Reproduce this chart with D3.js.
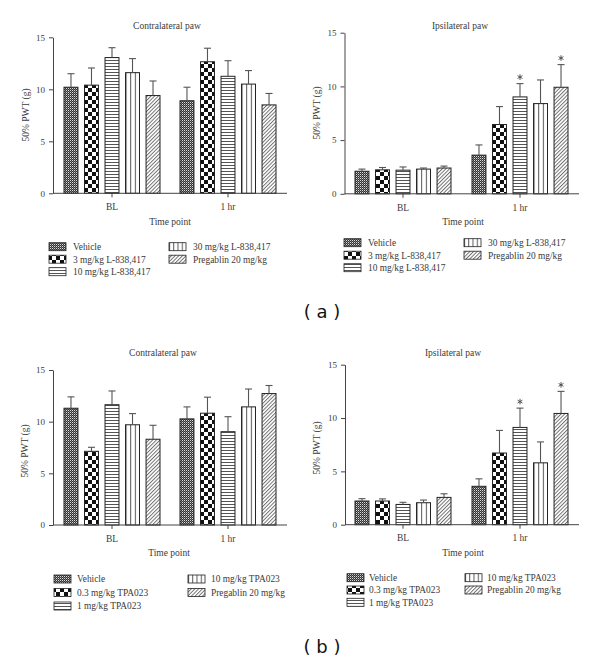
<!DOCTYPE html>
<html>
<head>
<meta charset="utf-8">
<script src="https://cdn.jsdelivr.net/npm/d3@7/dist/d3.min.js"></script>
<style>
  html, body { margin: 0; padding: 0; background: #fff; }
  svg { display: block; }
  text { font-family: "Liberation Serif", "DejaVu Serif", serif; fill: #3a3a3a; }
</style>
</head>
<body>
<svg id="chart" width="600" height="662"></svg>
<script>
// ---------- data ----------
const timePoints = ["BL", "1 hr"];
const groupsA = ["Vehicle", "3 mg/kg L-838,417", "10 mg/kg L-838,417", "30 mg/kg L-838,417", "Pregablin 20 mg/kg"];
const groupsB = ["Vehicle", "0.3 mg/kg TPA023", "1 mg/kg TPA023", "10 mg/kg TPA023", "Pregablin 20 mg/kg"];
const yTicks = [0, 5, 10, 15];

// (a) contralateral
const contraA_BL = [10.2, 10.4, 13.05, 11.6, 9.4];
const contraA_BL_sem = [1.3, 1.65, 0.95, 1.35, 1.4];
const contraA_1h = [8.9, 12.65, 11.25, 10.5, 8.5];
const contraA_1h_sem = [1.3, 1.3, 1.5, 1.3, 1.1];
// (a) ipsilateral
const ipsiA_BL = [2.1, 2.23, 2.2, 2.3, 2.4];
const ipsiA_BL_sem = [0.2, 0.22, 0.3, 0.1, 0.18];
const ipsiA_1h = [3.6, 6.45, 9.02, 8.4, 9.92];
const ipsiA_1h_sem = [0.95, 1.67, 1.24, 2.2, 2.11];
const ipsiA_1h_star = [false, false, true, false, true];
// (b) contralateral
const contraB_BL = [11.3, 7.13, 11.64, 9.7, 8.3];
const contraB_BL_sem = [1.1, 0.39, 1.33, 1.08, 1.35];
const contraB_1h = [10.27, 10.82, 9.03, 11.43, 12.72];
const contraB_1h_sem = [1.16, 1.55, 1.45, 1.73, 0.78];
// (b) ipsilateral
const ipsiB_BL = [2.22, 2.22, 1.9, 2.06, 2.56];
const ipsiB_BL_sem = [0.22, 0.2, 0.2, 0.25, 0.34];
const ipsiB_1h = [3.6, 6.72, 9.12, 5.8, 10.43];
const ipsiB_1h_sem = [0.7, 2.12, 1.81, 1.96, 2.07];
const ipsiB_1h_star = [false, false, true, false, true];
const noStars = [false, false, false, false, false];

// ---------- patterns ----------
const svg = d3.select("#chart");
const defs = svg.append("defs");

// Vehicle: fine dense check
let p = defs.append("pattern").attr("id", "pVeh").attr("patternUnits", "userSpaceOnUse").attr("width", 2).attr("height", 2);
p.append("rect").attr("width", 2).attr("height", 2).attr("fill", "#333");
p.append("rect").attr("x", 0).attr("y", 0).attr("width", 1).attr("height", 1).attr("fill", "#ddd");
p.append("rect").attr("x", 1).attr("y", 1).attr("width", 1).attr("height", 1).attr("fill", "#777");

// Checkerboard
p = defs.append("pattern").attr("id", "pChk").attr("patternUnits", "userSpaceOnUse").attr("width", 8).attr("height", 8);
p.append("rect").attr("width", 8).attr("height", 8).attr("fill", "#fff");
p.append("rect").attr("width", 4).attr("height", 4).attr("fill", "#111");
p.append("rect").attr("x", 4).attr("y", 4).attr("width", 4).attr("height", 4).attr("fill", "#111");

// Horizontal lines
p = defs.append("pattern").attr("id", "pHor").attr("patternUnits", "userSpaceOnUse").attr("width", 4).attr("height", 3);
p.append("rect").attr("width", 4).attr("height", 3).attr("fill", "#fff");
p.append("line").attr("x1", 0).attr("x2", 4).attr("y1", 0.5).attr("y2", 0.5).attr("stroke", "#555").attr("stroke-width", 1);

// Vertical lines (3 columns per bar)
p = defs.append("pattern").attr("id", "pVer").attr("patternUnits", "objectBoundingBox").attr("width", 1/3).attr("height", 1);
p.append("rect").attr("width", 100).attr("height", 1000).attr("fill", "#fff");
p.append("line").attr("x1", 0.5).attr("x2", 0.5).attr("y1", 0).attr("y2", 1000).attr("stroke", "#555").attr("stroke-width", 1);

// Vertical lines (legend, 4 columns)
p = defs.append("pattern").attr("id", "pVerL").attr("patternUnits", "objectBoundingBox").attr("width", 0.25).attr("height", 1);
p.append("rect").attr("width", 100).attr("height", 1000).attr("fill", "#fff");
p.append("line").attr("x1", 0.5).attr("x2", 0.5).attr("y1", 0).attr("y2", 1000).attr("stroke", "#555").attr("stroke-width", 1);

// Diagonal hatch
p = defs.append("pattern").attr("id", "pDiag").attr("patternUnits", "userSpaceOnUse").attr("width", 2.6).attr("height", 10)
  .attr("patternTransform", "rotate(45)");
p.append("rect").attr("width", 2.6).attr("height", 10).attr("fill", "#fff");
p.append("line").attr("x1", 0.5).attr("x2", 0.5).attr("y1", 0).attr("y2", 10).attr("stroke", "#666").attr("stroke-width", 0.9);

const fills = ["url(#pVeh)", "url(#pChk)", "url(#pHor)", "url(#pVer)", "url(#pDiag)"];
const legendFills = ["url(#pVeh)", "url(#pChk)", "url(#pHor)", "url(#pVerL)", "url(#pDiag)"];
const starSymbol = d3.symbol().type(d3.symbolAsterisk).size(22);

// ---------- panel renderer ----------
function drawPanel(o) {
  const g = svg.append("g");
  const y = d3.scaleLinear().domain([0, 15]).range([o.y0, o.y15]);
  const x0 = d3.scaleBand().domain(timePoints).range([o.xa, o.xb]);
  const bw = x0.bandwidth();
  const x1 = d3.scaleBand().domain(d3.range(5)).range([bw / 2 - 48, bw / 2 + 48]).paddingInner(0.32);

  // title
  g.append("text").attr("x", o.titleX).attr("y", o.titleY).attr("text-anchor", "middle")
    .attr("font-size", 9.5).text(o.title);

  // y axis
  const ya = g.append("g").attr("transform", `translate(${o.axX},0)`)
    .call(d3.axisLeft(y).tickValues(yTicks).tickSize(4).tickSizeOuter(0).tickPadding(4));
  ya.select(".domain").attr("stroke", "#444");
  ya.selectAll(".tick line").attr("stroke", "#444");
  ya.selectAll(".tick text").attr("font-family", "Liberation Serif, DejaVu Serif, serif").attr("font-size", 9).attr("fill", "#3a3a3a");

  // y label
  g.append("text").attr("transform", `translate(${o.ylabX},${o.ylabY}) rotate(-90)`)
    .attr("text-anchor", "middle").attr("font-size", 9.5).text("50% PWT (g)");

  // bars
  const series = o.series;
  timePoints.forEach((tp, ti) => {
    const gx = x0(tp);
    const means = series.mean[ti], sems = series.sem[ti], stars = series.star[ti];
    means.forEach((m, i) => {
      const bx = gx + x1(i), w = x1.bandwidth();
      g.append("rect").attr("x", bx).attr("y", y(m)).attr("width", w).attr("height", y(0) - y(m))
        .attr("fill", fills[i]).attr("stroke", "#222").attr("stroke-width", 1);
      const cx = bx + w / 2, top = y(m + sems[i]);
      g.append("line").attr("x1", cx).attr("x2", cx).attr("y1", y(m)).attr("y2", top)
        .attr("stroke", "#555").attr("stroke-width", 1.1);
      g.append("line").attr("x1", cx - 3.5).attr("x2", cx + 3.5).attr("y1", top).attr("y2", top)
        .attr("stroke", "#555").attr("stroke-width", 1.1);
      if (stars[i]) {
        g.append("path").attr("d", starSymbol).attr("transform", `translate(${cx},${top - 6.5})`)
          .attr("fill", "none").attr("stroke", "#444").attr("stroke-width", 0.9);
      }
    });
  });

  // x axis line + ticks
  g.append("line").attr("x1", o.axX).attr("x2", o.xEnd).attr("y1", o.y0).attr("y2", o.y0)
    .attr("stroke", "#444").attr("stroke-width", 1);
  const xa = g.append("g").attr("transform", `translate(0,${o.y0})`)
    .call(d3.axisBottom(x0).tickSize(4).tickSizeOuter(0).tickPadding(6));
  xa.select(".domain").remove();
  xa.selectAll(".tick line").attr("stroke", "#444");
  xa.selectAll(".tick text").attr("font-family", "Liberation Serif, DejaVu Serif, serif").attr("font-size", 9.5).attr("fill", "#3a3a3a");

  // x label
  g.append("text").attr("x", o.xlabX).attr("y", o.xlabY).attr("text-anchor", "middle")
    .attr("font-size", 9.5).text("Time point");

  // legend
  const L = o.legend;
  o.groups.forEach((name, i) => {
    const col = i < 3 ? 0 : 1, row = i < 3 ? i : i - 3;
    const sx = col === 0 ? L.sx1 : L.sx2;
    const cy = L.y + row * L.dy;
    g.append("rect").attr("x", sx).attr("y", cy - 4).attr("width", 17).attr("height", 8)
      .attr("fill", legendFills[i]).attr("stroke", "#222").attr("stroke-width", 0.8);
    g.append("text").attr("x", sx + L.off).attr("y", cy + 3.3).attr("font-size", 9.4).text(name);
  });
}

drawPanel({
  title: "Contralateral paw", titleX: 167, titleY: 28.5,
  axX: 53, y0: 193.3, y15: 37.3, xa: 54, xb: 286, xEnd: 287,
  ylabX: 29, ylabY: 115, xlabX: 170, xlabY: 224.5,
  groups: groupsA,
  series: { mean: [contraA_BL, contraA_1h], sem: [contraA_BL_sem, contraA_1h_sem], star: [noStars, noStars] },
  legend: { sx1: 49, sx2: 169, y: 246.7, dy: 12.5, off: 24 }
});
drawPanel({
  title: "Ipsilateral paw", titleX: 460, titleY: 29.3,
  axX: 344.5, y0: 193.8, y15: 32.7, xa: 344.5, xb: 578.5, xEnd: 579,
  ylabX: 320, ylabY: 113, xlabX: 463, xlabY: 224.5,
  groups: groupsA,
  series: { mean: [ipsiA_BL, ipsiA_1h], sem: [ipsiA_BL_sem, ipsiA_1h_sem], star: [noStars, ipsiA_1h_star] },
  legend: { sx1: 344, sx2: 464, y: 242.7, dy: 12.5, off: 24 }
});
drawPanel({
  title: "Contralateral paw", titleX: 163, titleY: 356.3,
  axX: 53, y0: 525, y15: 370, xa: 54, xb: 286, xEnd: 287,
  ylabX: 28, ylabY: 451, xlabX: 169, xlabY: 556,
  groups: groupsB,
  series: { mean: [contraB_BL, contraB_1h], sem: [contraB_BL_sem, contraB_1h_sem], star: [noStars, noStars] },
  legend: { sx1: 54, sx2: 188, y: 579, dy: 13.5, off: 23 }
});
drawPanel({
  title: "Ipsilateral paw", titleX: 453, titleY: 356,
  axX: 345, y0: 524.7, y15: 364.7, xa: 344.5, xb: 578.5, xEnd: 579,
  ylabX: 320, ylabY: 448, xlabX: 463, xlabY: 556,
  groups: groupsB,
  series: { mean: [ipsiB_BL, ipsiB_1h], sem: [ipsiB_BL_sem, ipsiB_1h_sem], star: [noStars, ipsiB_1h_star] },
  legend: { sx1: 347, sx2: 465, y: 577.7, dy: 12.3, off: 22 }
});

// panel letters
svg.append("text").attr("x", 322).attr("y", 318).attr("text-anchor", "middle")
  .style("font-family", "DejaVu Sans, sans-serif").style("fill", "#111").attr("font-size", 18).text("( a )");
svg.append("text").attr("x", 322).attr("y", 653).attr("text-anchor", "middle")
  .style("font-family", "DejaVu Sans, sans-serif").style("fill", "#111").attr("font-size", 18).text("( b )");
</script>
</body>
</html>
